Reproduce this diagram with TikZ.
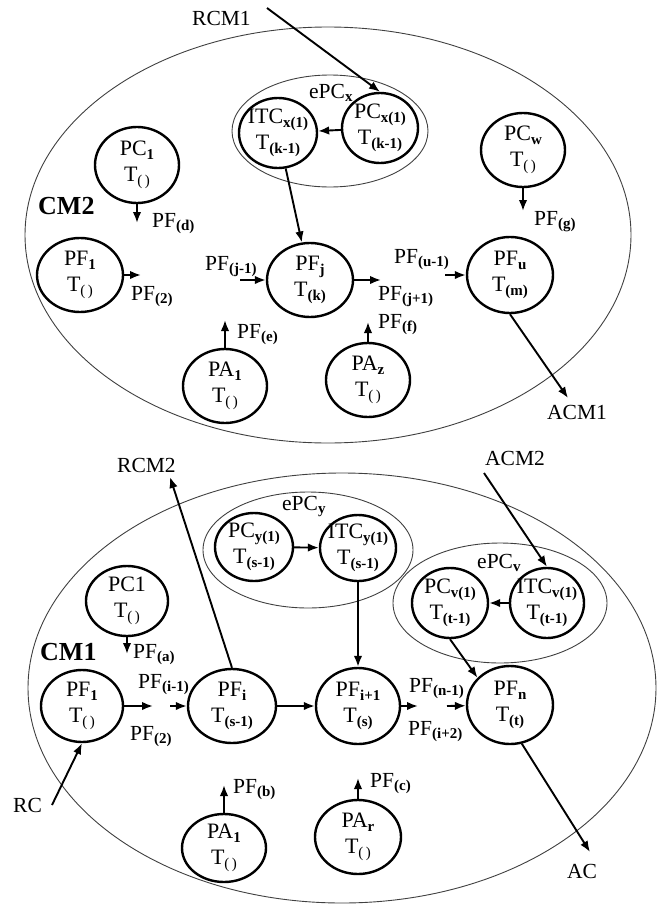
\documentclass[tikz,border=0pt]{standalone}
\usepackage{fontspec}
\setmainfont{Liberation Serif}
\usetikzlibrary{shapes.geometric,arrows.meta}
\newcommand{\sbs}[1]{\raisebox{-3.5pt}{\fontsize{15}{15}\selectfont\bfseries #1}}
\newcommand{\sbn}[1]{\raisebox{-3.5pt}{\fontsize{15}{15}\selectfont #1}}
\newcommand{\Tn}{T\sbn{(\hspace{2.5pt})}}
\begin{document}
\begin{tikzpicture}[x=1pt,y=-1pt,
  pnode/.style={draw, ellipse, line width=2.4pt, inner sep=0pt, minimum width=84pt, minimum height=74pt},
  ntext/.style={inner sep=0pt, align=center, font=\fontsize{22}{26}\selectfont},
  grp/.style={draw=black!75, ellipse, line width=0.9pt, inner sep=0pt},
  arr/.style={line width=1.9pt, -{Latex[length=11pt,width=8.5pt]}},
  lbl/.style={font=\fontsize{21.5}{26}\selectfont, inner sep=0pt, anchor=base west},
  cmlbl/.style={font=\fontsize{26}{30}\selectfont\bfseries, inner sep=0pt, anchor=base west}]
\useasboundingbox (0,0) rectangle (667,905);

% containers
\node[grp, minimum width=606pt, minimum height=416pt] (cm2) at (328,235) {};
\node[grp, minimum width=628pt, minimum height=430pt] (cm1) at (342,688) {};
\node[grp, minimum width=196pt, minimum height=112pt] (epcx) at (330,131) {};
\node[grp, minimum width=210pt, minimum height=116pt] (epcy) at (308,550) {};
\node[grp, minimum width=214pt, minimum height=120pt] (epcv) at (500,603) {};

% ---------- CM2 ----------
\node[pnode, minimum width=84pt, minimum height=76pt, label={[ntext]center:{PC\sbs{1}\\\Tn}}] (pc1t) at (137,165) {};
\node[pnode, minimum width=78pt, minimum height=70pt, label={[ntext]center:{ITC\sbs{x(1)}\\T\sbs{(k-1)}}}] (itcx) at (278,133) {};
\node[pnode, minimum width=76pt, minimum height=70pt, label={[ntext]center:{PC\sbs{x(1)}\\T\sbs{(k-1)}}}] (pcx) at (380,128) {};
\node[pnode, minimum width=84pt, minimum height=74pt, label={[ntext]center:{PC\sbs{w}\\\Tn}}] (pcw) at (523,150) {};
\node[pnode, minimum width=86pt, minimum height=74pt, label={[ntext]center:{PF\sbs{1}\\\Tn}}] (pf1t) at (80,275) {};
\node[pnode, minimum width=86pt, minimum height=74pt, label={[ntext]center:{PF\sbs{j}\\T\sbs{(k)}}}] (pfj) at (310,280) {};
\node[pnode, minimum width=86pt, minimum height=76pt, label={[ntext]center:{PF\sbs{u}\\T\sbs{(m)}}}] (pfu) at (510,275) {};
\node[pnode, minimum width=84pt, minimum height=74pt, label={[ntext]center:{PA\sbs{1}\\\Tn}}] (pa1t) at (225,386) {};
\node[pnode, minimum width=84pt, minimum height=74pt, label={[ntext]center:{PA\sbs{z}\\\Tn}}] (paz) at (368,380) {};

\node[cmlbl] (cm2l) at (38,214) {CM2};
\node[lbl] (rcm1l) at (192,25) {RCM1};
\node[lbl] (epcxl) at (309,98) {ePC\sbs{x}};
\node[lbl] (pfdl) at (152,227) {PF\sbs{(d)}};
\node[lbl] (pfgl) at (534,225) {PF\sbs{(g)}};
\node[lbl] (pf2tl) at (131,300) {PF\sbs{(2)}};
\node[lbl] (pfjml) at (205,270) {PF\sbs{(j-1)}};
\node[lbl] (pfel) at (237,338) {PF\sbs{(e)}};
\node[lbl] (pfjpl) at (378,300) {PF\sbs{(j+1)}};
\node[lbl] (pfuml) at (394,263) {PF\sbs{(u-1)}};
\node[lbl] (pffl) at (378,328) {PF\sbs{(f)}};
\node[lbl] (acm1l) at (547,419) {ACM1};

\coordinate (rcm1s) at (267,8);
\coordinate (pc1tend) at (137,223);
\coordinate (pcwend) at (523,211);
\coordinate (pf1tend) at (141,275);
\coordinate (pfjin) at (240,280);
\coordinate (pfjout) at (381,280);
\coordinate (pfuin) at (445,275);
\coordinate (acm1) at (568,398);
\coordinate (pa1tend) at (225,320);
\coordinate (pazend) at (368,322);

\draw[arr] (rcm1s) -- (pcx.north);
\draw[arr] (pcx) -- (itcx);
\draw[arr] (itcx) -- (pfj);
\draw[arr] (pc1t) -- (pc1tend);
\draw[arr] (pcw) -- (pcwend);
\draw[arr] (pf1t) -- (pf1tend);
\draw[arr] (pfjin) -- (pfj);
\draw[arr] (pfj) -- (pfjout);
\draw[arr] (pfuin) -- (pfu);
\draw[arr] (pfu.south) -- (acm1);
\draw[arr] (pa1t) -- (pa1tend);
\draw[arr] (paz) -- (pazend);

% ---------- CM1 ----------
\node[pnode, minimum width=82pt, minimum height=70pt, label={[ntext]center:{PC1\\\Tn}}] (pc1b) at (127,601) {};
\node[pnode, minimum width=78pt, minimum height=68pt, label={[ntext]center:{PC\sbs{y(1)}\\T\sbs{(s-1)}}}] (pcy) at (254,547) {};
\node[pnode, minimum width=76pt, minimum height=66pt, label={[ntext]center:{ITC\sbs{y(1)}\\T\sbs{(s-1)}}}] (itcy) at (358,548) {};
\node[pnode, minimum width=76pt, minimum height=70pt, label={[ntext]center:{PC\sbs{v(1)}\\T\sbs{(t-1)}}}] (pcv) at (450,603) {};
\node[pnode, minimum width=74pt, minimum height=70pt, label={[ntext]center:{ITC\sbs{v(1)}\\T\sbs{(t-1)}}}] (itcv) at (547,603) {};
\node[pnode, minimum width=82pt, minimum height=72pt, label={[ntext]center:{PF\sbs{1}\\\Tn}}] (pf1b) at (82,706) {};
\node[pnode, minimum width=88pt, minimum height=74pt, label={[ntext]center:{PF\sbs{i}\\T\sbs{(s-1)}}}] (pfi) at (232,706) {};
\node[pnode, minimum width=84pt, minimum height=76pt, label={[ntext]center:{PF\sbs{i+1}\\T\sbs{(s)}}}] (pfi1) at (358,706) {};
\node[pnode, minimum width=86pt, minimum height=78pt, label={[ntext]center:{PF\sbs{n}\\T\sbs{(t)}}}] (pfn) at (510,705) {};
\node[pnode, minimum width=84pt, minimum height=68pt, label={[ntext]center:{PA\sbs{1}\\\Tn}}] (pa1b) at (224,848) {};
\node[pnode, minimum width=86pt, minimum height=74pt, label={[ntext]center:{PA\sbs{r}\\\Tn}}] (par) at (358,837) {};

\node[cmlbl] (cm1l) at (40,660) {CM1};
\node[lbl] (rcm2l) at (117,472) {RCM2};
\node[lbl] (acm2l) at (485,465) {ACM2};
\node[lbl] (epcyl) at (282,510) {ePC\sbs{y}};
\node[lbl] (epcvl) at (477,568) {ePC\sbs{v}};
\node[lbl] (pfal) at (133,658) {PF\sbs{(a)}};
\node[lbl] (pfiml) at (138,688) {PF\sbs{(i-1)}};
\node[lbl] (pf2bl) at (130,740) {PF\sbs{(2)}};
\node[lbl] (rcl) at (13,812) {RC};
\node[lbl] (pfbl) at (233,793) {PF\sbs{(b)}};
\node[lbl] (pfnml) at (409,692) {PF\sbs{(n-1)}};
\node[lbl] (pfipl) at (408,735) {PF\sbs{(i+2)}};
\node[lbl] (pfcl) at (370,787) {PF\sbs{(c)}};
\node[lbl] (acl) at (567,878) {AC};

\coordinate (pc1bend) at (127,654);
\coordinate (acm2s) at (484,473);
\coordinate (ac) at (590,852);
\coordinate (rcm2) at (170,477);
\coordinate (rcs) at (52,805);
\coordinate (pf1bout) at (153,706);
\coordinate (pfiin) at (170,706);
\coordinate (pfi1out) at (418,706);
\coordinate (pfnin) at (447,706);
\coordinate (pa1bend) at (224,785);
\coordinate (parend) at (358,778);

\draw[arr] (pc1b) -- (pc1bend);
\draw[arr] (pcy) -- (itcy);
\draw[arr] (itcy) -- (pfi1);
\draw[arr] (acm2s) -- (itcv.north);
\draw[arr] (itcv) -- (pcv);
\draw[arr] (pcv.south) -- (pfn.140);
\draw[arr] (pfn.-73) -- (ac);
\draw[arr] (pfi.north) -- (rcm2);
\draw[arr] (rcs) -- (pf1b.south);
\draw[arr] (pf1b) -- (pf1bout);
\draw[arr] (pfiin) -- (pfi);
\draw[arr] (pfi) -- (pfi1);
\draw[arr] (pfi1) -- (pfi1out);
\draw[arr] (pfnin) -- (pfn);
\draw[arr] (pa1b) -- (pa1bend);
\draw[arr] (par) -- (parend);
\end{tikzpicture}
\end{document}
